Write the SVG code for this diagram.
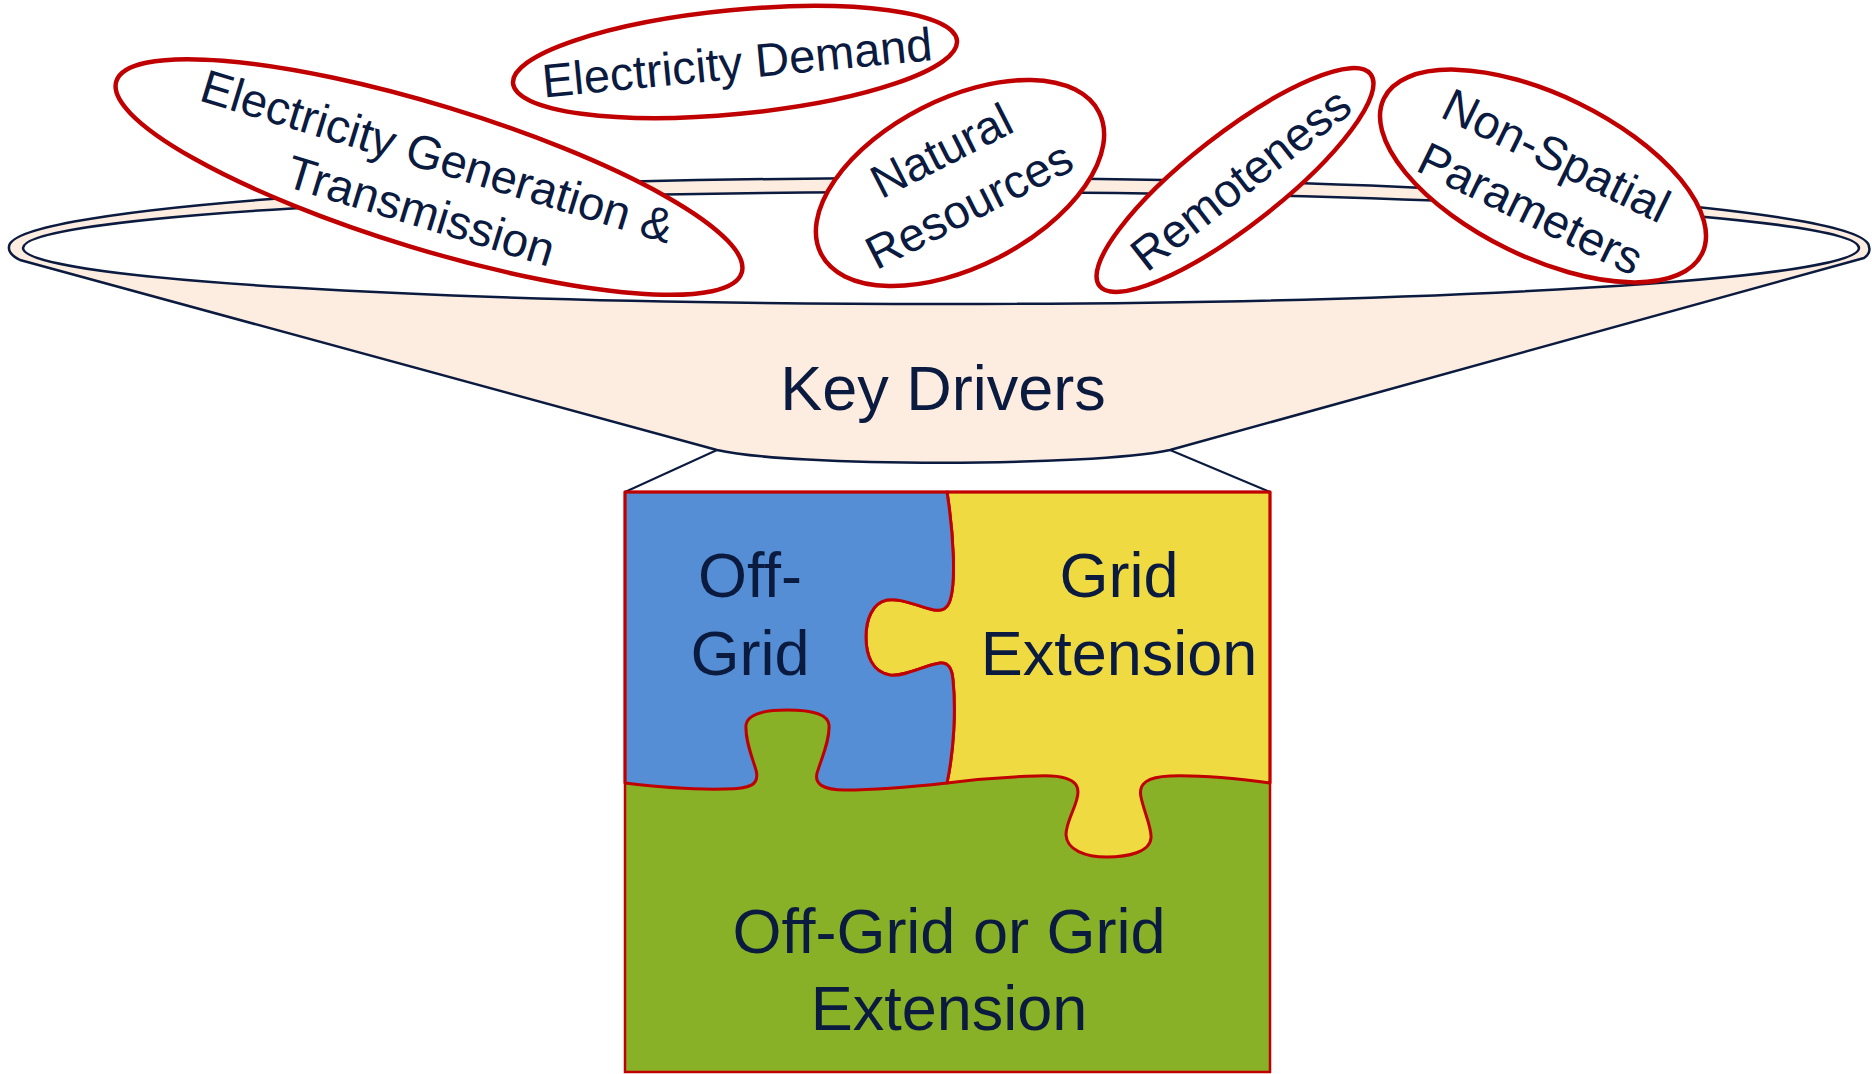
<svg xmlns="http://www.w3.org/2000/svg" width="1872" height="1074" viewBox="0 0 1872 1074">
  <style>
    .lbl { font-family: "Liberation Sans", Arial, sans-serif; fill: #0b1a3f; text-anchor: middle; }
    .big { font-size: 63px; }
    .oval-text { font-size: 47px; }
    .oval { fill: #ffffff; stroke: #c00000; stroke-width: 4.5; }
    .funnel { fill: #fdede1; stroke: #0b1a3f; stroke-width: 2.5; stroke-linejoin: round; }
    .rim-inner { fill: #ffffff; stroke: #0b1a3f; stroke-width: 2.5; }
    .piece { stroke: #c00000; stroke-width: 3; stroke-linejoin: round; }
    .link { stroke: #0b1a3f; stroke-width: 2; fill: none; }
  </style>

  <!-- Funnel: rim top, tapered body and neck -->
  <g id="funnel">
    <path class="funnel" d="M9,247 A930,69 0 0 1 1869,247 Q1871,253 1864,258 L1170,450 C1090,467 790,467 717,450 L20,260 Q8,254 9,247 Z"/>
    <ellipse class="rim-inner" cx="941" cy="248" rx="918" ry="56"/>
    <text class="lbl big" x="943" y="410">Key Drivers</text>
  </g>

  <!-- Lines from funnel neck to the puzzle -->
  <g id="connectors">
    <line class="link" x1="717" y1="450" x2="625" y2="492"/>
    <line class="link" x1="1170" y1="450" x2="1270" y2="492"/>
  </g>

  <!-- Puzzle pieces -->
  <g id="piece-both">
    <rect x="625" y="492" width="645" height="580" fill="#89b127"/>
    <text class="lbl big" x="949" y="953">Off-Grid or Grid</text>
    <text class="lbl big" x="949" y="1030">Extension</text>
  </g>

  <g id="piece-grid">
    <path class="piece" fill="#f0da42" d="M947,492 L1270,492 L1270,783
      C1240,779 1200,775 1170,776 C1148,777 1138,783 1141,797 C1144,812 1152,828 1151,838
      C1150,852 1128,857 1107,857 C1085,857 1067,850 1066,835 C1066,820 1078,805 1078,792
      C1078,778 1060,775 1037,776 C1000,777 970,780 947,783
      C954,750 956,710 953,680 C952,668 948,662 940,663 C925,665 905,677 890,675
      C872,672 866,655 866,637 C866,620 872,603 887,600 C900,598 915,605 930,609
      C940,612 946,610 949,603 C957,585 953,530 947,492 Z"/>
    <text class="lbl big" x="1119" y="597">Grid</text>
    <text class="lbl big" x="1119" y="675">Extension</text>
  </g>

  <g id="piece-offgrid">
    <path class="piece" fill="#558ed5" d="M625,492 L947,492
      C953,530 957,585 949,603 C946,610 940,612 930,609 C915,605 900,598 887,600
      C872,603 866,620 866,637 C866,655 872,672 890,675 C905,677 925,665 940,663
      C948,662 952,668 953,680 C956,710 954,750 947,783
      C920,786 880,790 845,790 C825,790 812,785 818,770 C822,757 830,740 829,725
      C828,712 805,710 787,710 C770,710 748,712 746,725 C745,740 752,757 756,770
      C760,785 750,789 725,789 C690,790 650,786 625,783 Z"/>
    <text class="lbl big" x="750" y="597">Off-</text>
    <text class="lbl big" x="750" y="675">Grid</text>
  </g>

  <rect x="625" y="492" width="645" height="580" fill="none" stroke="#c00000" stroke-width="2.5"/>

  <!-- Driver ovals -->
  <g id="driver-generation" transform="translate(429,177) rotate(17)">
    <ellipse class="oval" cx="0" cy="0" rx="327" ry="72"/>
    <text class="lbl oval-text" x="2" y="-6">Electricity Generation &amp;</text>
    <text class="lbl oval-text" x="2" y="51">Transmission</text>
  </g>

  <g id="driver-demand" transform="translate(735,62) rotate(-5.5)">
    <ellipse class="oval" cx="0" cy="0" rx="223" ry="52"/>
    <text class="lbl oval-text" x="2" y="17">Electricity Demand</text>
  </g>

  <g id="driver-resources" transform="translate(960,183) rotate(-27)">
    <ellipse class="oval" cx="0" cy="0" rx="156" ry="84"/>
    <text class="lbl oval-text" x="-2" y="-21">Natural</text>
    <text class="lbl oval-text" x="-2" y="40">Resources</text>
  </g>

  <g id="driver-remoteness" transform="translate(1235,180) rotate(-38)">
    <ellipse class="oval" cx="0" cy="0" rx="172" ry="46"/>
    <text class="lbl oval-text" x="5" y="19">Remoteness</text>
  </g>

  <g id="driver-nonspatial" transform="translate(1543,176) rotate(26)">
    <ellipse class="oval" cx="0" cy="0" rx="177" ry="81"/>
    <text class="lbl oval-text" x="3" y="-8">Non-Spatial</text>
    <text class="lbl oval-text" x="3" y="51">Parameters</text>
  </g>
</svg>
